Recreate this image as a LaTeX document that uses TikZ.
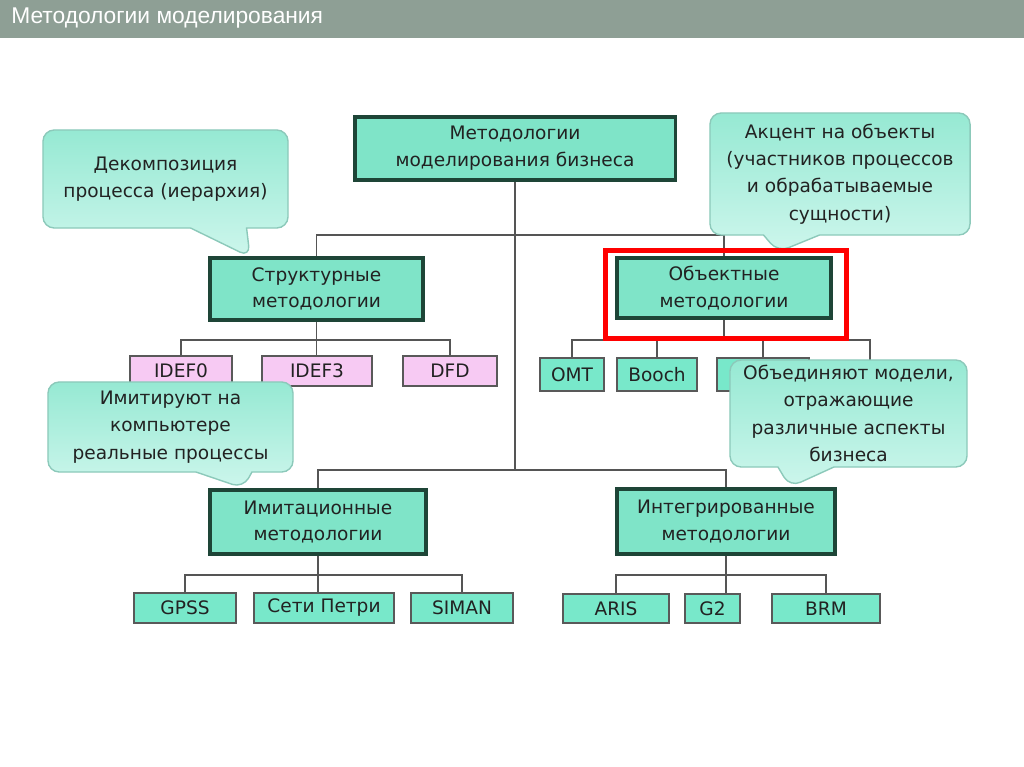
\documentclass[tikz,border=0pt]{standalone}
\usepackage{fontspec}
\setmainfont{DejaVu Sans}
\newfontfamily\titlefont{Liberation Sans}
\usepackage{tikz}
\usetikzlibrary{shapes.callouts, calc}

\definecolor{barbg}{HTML}{8E9F95}
\definecolor{mint}{HTML}{7FE4C8}
\definecolor{mintlt}{HTML}{78E8CA}
\definecolor{darkgreen}{HTML}{1E4537}
\definecolor{pinkbox}{HTML}{F7CAF3}
\definecolor{notetop}{HTML}{96E9D3}
\definecolor{notebot}{HTML}{CDF6EC}
\definecolor{noteline}{HTML}{8CC9BA}
\definecolor{linegray}{HTML}{555555}
\definecolor{ink}{HTML}{222222}

\begin{document}
\begin{tikzpicture}[
    x=0.025cm, y=-0.025cm,
    method/.style={draw=darkgreen, line width=2.2pt, fill=mint, align=center, inner sep=0pt, font=\fontsize{13.2}{19}\selectfont, text=ink},
    tool/.style={draw=black!65, line width=0.9pt, fill=mintlt, inner sep=0pt, minimum height=0.75cm, font=\fontsize{13.2}{16}\selectfont, text=ink},
    pinktool/.style={tool, fill=pinkbox},
    note/.style={rectangle callout, draw=noteline, line width=1pt, top color=notetop, bottom color=notebot, rounded corners=8pt, align=center, inner sep=0pt, callout pointer width=1.4cm, font=\fontsize{13.2}{19.5}\selectfont, text=ink},
    wire/.style={draw=linegray, line width=1pt},
    highlight/.style={draw=red, line width=3.5pt},
    titletext/.style={font=\titlefont\fontsize{16.2}{20}\selectfont, text=white}
]
\useasboundingbox (0,0) rectangle (1024,767);

% Title bar
\fill[barbg] (0,0) rectangle (1024,38);
\node[titletext, anchor=base west, inner sep=0pt] (title) at (11,24) {Методологии моделирования};

% Root
\node[method, minimum width=8cm, minimum height=1.575cm] (root) at (515,148.5) {Методологии\\моделирования бизнеса};

% Methodologies
\node[method, minimum width=5.325cm, minimum height=1.55cm] (struct) at (316.5,289) {Структурные\\методологии};
\node[method, minimum width=5.35cm, minimum height=1.5cm] (object) at (724,288) {Объектные\\методологии};
\node[method, minimum width=5.4cm, minimum height=1.6cm] (imit) at (318,522) {Имитационные\\методологии};
\node[method, minimum width=5.45cm, minimum height=1.625cm] (integ) at (726,521.5) {Интегрированные\\методологии};

% Tools
\node[pinktool, minimum width=2.55cm] (idef0) at (181,371) {IDEF0};
\node[pinktool, minimum width=2.75cm] (idef3) at (317,371) {IDEF3};
\node[pinktool, minimum width=2.35cm] (dfd) at (450,371) {DFD};

\node[tool, minimum width=1.6cm, minimum height=0.825cm] (omt) at (572,374.5) {OMT};
\node[tool, minimum width=2cm, minimum height=0.825cm] (booch) at (657,374.5) {Booch};
\node[tool, minimum width=2.3cm, minimum height=0.825cm] (obj3) at (763,374.5) {};
\coordinate (obj4) at (870,370);

\node[tool, minimum width=2.55cm] (gpss) at (185,608) {GPSS};
\node[tool, minimum width=3.5cm] (petri) at (324,608) {Сети Петри};
\node[tool, minimum width=2.55cm] (siman) at (462,608) {SIMAN};

\node[tool, minimum width=2.65cm, minimum height=0.725cm] (aris) at (616,608.5) {ARIS};
\node[tool, minimum width=1.375cm, minimum height=0.725cm] (g2) at (712.5,608.5) {G2};
\node[tool, minimum width=2.7cm, minimum height=0.725cm] (brm) at (826,608.5) {BRM};

% Connectors
\coordinate (hubA) at (515,235);
\coordinate (hubB) at (515,470);
\draw[wire] (root.south) -- (hubB);
\draw[wire] (struct.north) |- (hubA) -| (object.north);
\draw[wire] (imit.north) |- (hubB) -| (integ.north);

\coordinate (busS) at (316.5,340);
\draw[wire] (struct.south) -- (busS);
\draw[wire] (idef0.north) |- (busS) -| (dfd.north);
\draw[wire] (busS) -- (busS |- idef3.north);

\coordinate (busO) at (724,340);
\draw[wire] (object.south) -- (busO);
\draw[wire] (omt.north) |- (busO) -| (obj4);
\draw[wire] (booch.north) |- (busO);
\draw[wire] (obj3.north) |- (busO);

\coordinate (busI) at (318,575);
\draw[wire] (imit.south) -- (imit.south |- petri.north);
\draw[wire] (gpss.north) |- (busI) -| (siman.north);

\coordinate (busT) at (726,575);
\draw[wire] (integ.south) -- (integ.south |- g2.north);
\draw[wire] (aris.north) |- (busT) -| (brm.north);

% Notes
\node[note, minimum width=6.125cm, minimum height=2.45cm, callout absolute pointer={(250,257)}] (noteS) at (165.5,179) {Декомпозиция\\процесса (иерархия)};
\node[note, minimum width=6.5cm, minimum height=3.05cm, callout absolute pointer={(778,252)}] (noteO) at (840,174) {Акцент на объекты\\(участников процессов\\и обрабатываемые\\сущности)};
\node[note, minimum width=6.125cm, minimum height=2.25cm, callout absolute pointer={(243,488)}] (noteI) at (170.5,427) {Имитируют на\\компьютере\\реальные процессы};
\node[note, minimum width=5.925cm, minimum height=2.675cm, callout absolute pointer={(790,487)}] (noteT) at (848.5,413.5) {Объединяют модели,\\отражающие\\различные аспекты\\бизнеса};

% Highlight
\draw[highlight] ($(object.north west)+(-10,-6)$) rectangle ($(object.south east)+(14,19)$);

\end{tikzpicture}
\end{document}
